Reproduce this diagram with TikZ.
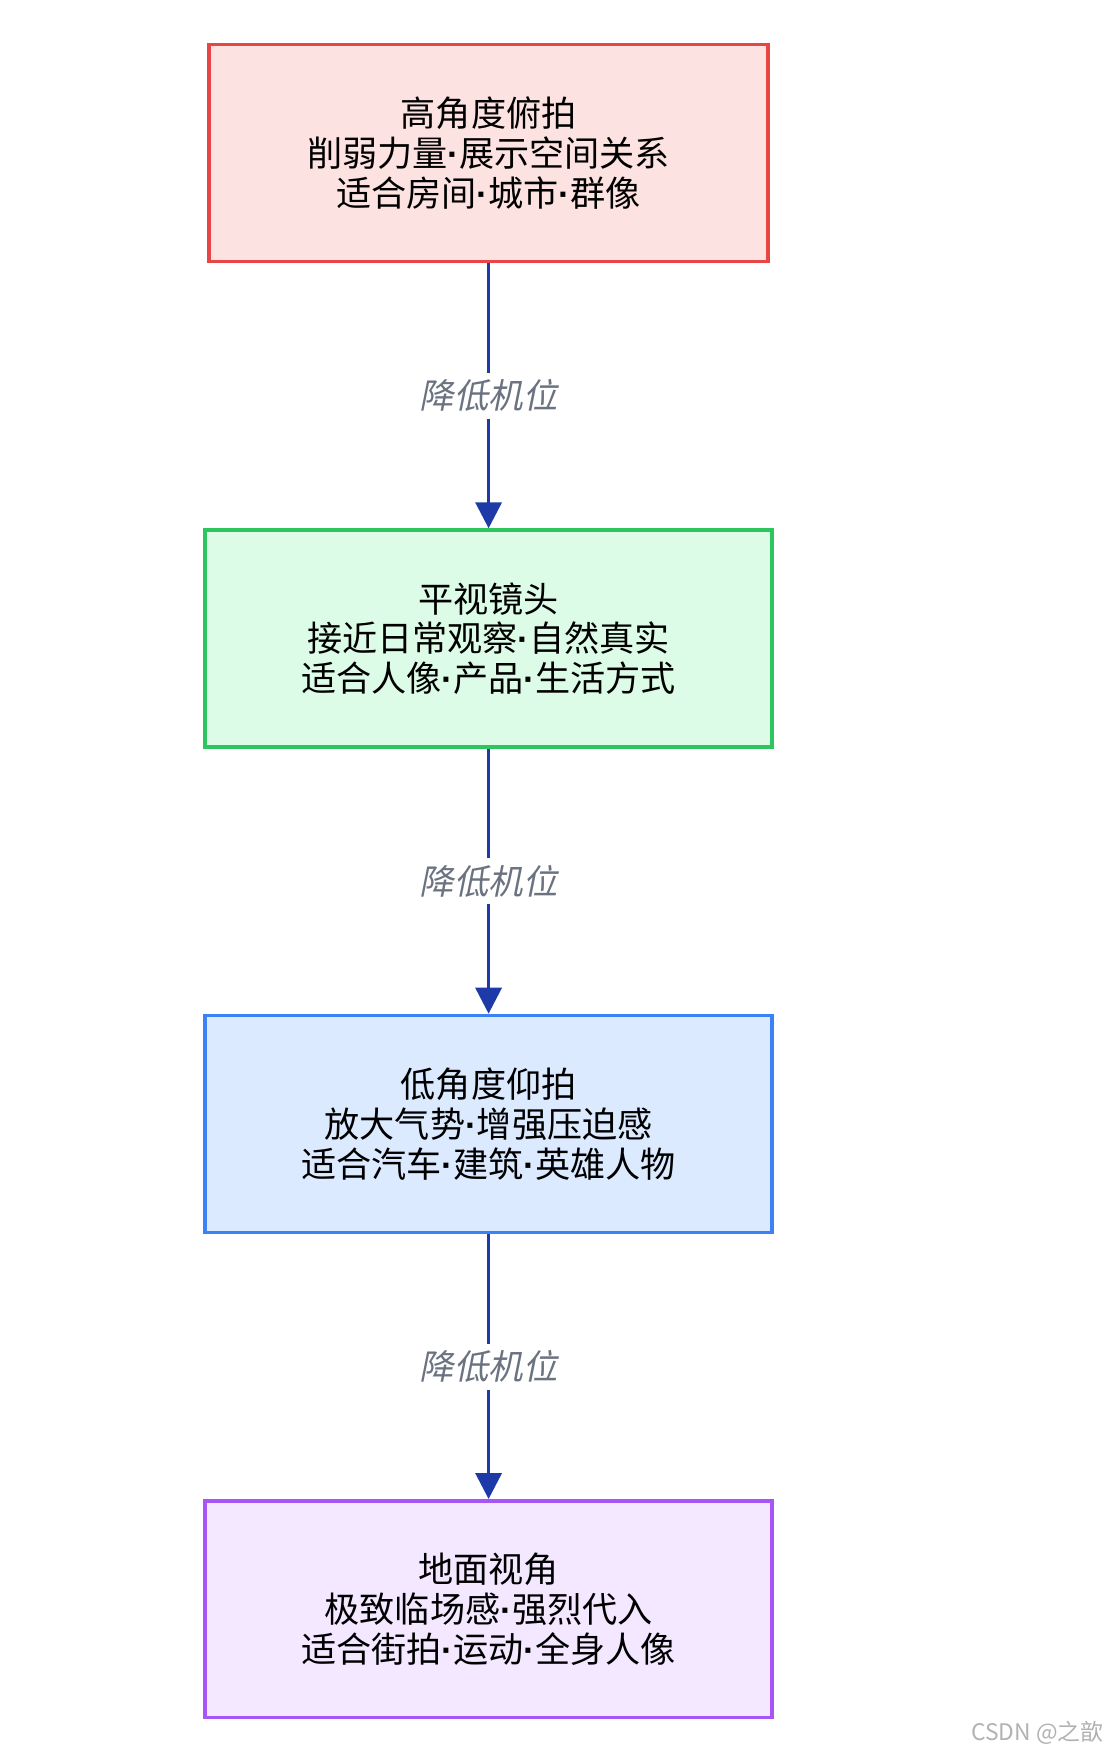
\documentclass[tikz,border=0pt]{standalone}
\usepackage{fontspec}
\usetikzlibrary{arrows.meta, positioning}
\newfontfamily\cjk{Noto Sans CJK SC}
\newfontfamily\cjkit[FakeSlant=0.2]{Noto Sans CJK SC}
\newfontfamily\dotfont{Liberation Sans}
\newcommand{\md}{{\dotfont\textbf{·}}}
\definecolor{redline}{HTML}{E84545}
\definecolor{redfill}{HTML}{FDE2E2}
\definecolor{greenline}{HTML}{2DC55E}
\definecolor{greenfill}{HTML}{DCFCE7}
\definecolor{blueline}{HTML}{3B82F6}
\definecolor{bluefill}{HTML}{DBEAFE}
\definecolor{purpleline}{HTML}{A855F7}
\definecolor{purplefill}{HTML}{F3E8FF}
\definecolor{arrowblue}{HTML}{1E3AA8}
\definecolor{labelgray}{HTML}{6B7280}
\tikzset{
    stepbox/.style={rectangle, minimum width=5.67cm, minimum height=2.17cm, line width=1pt, align=center, font=\cjk\fontsize{10}{11.3}\selectfont, text=black},
    arr/.style={arrowblue, line width=1pt, -{Triangle[length=2.6mm, width=2.6mm]}},
    steplabel/.style={fill=white, font=\cjkit\fontsize{9.8}{11}\selectfont, text=labelgray, inner sep=2pt},
}
\begin{document}
\begin{tikzpicture}[x=0.01118cm, y=-0.01118cm]
\useasboundingbox (0,0) rectangle (1000,1567);
% Camera angle boxes, top to bottom
\node[stepbox, draw=redline, fill=redfill, minimum width=5.59cm] (high) at (437,137) {高角度俯拍\\削弱力量\md 展示空间关系\\适合房间\md 城市\md 群像};
\node[stepbox, draw=greenline, fill=greenfill, below=2.65cm of high] (eye) {平视镜头\\接近日常观察\md 自然真实\\适合人像\md 产品\md 生活方式};
\node[stepbox, draw=blueline, fill=bluefill, below=2.65cm of eye] (low) {低角度仰拍\\放大气势\md 增强压迫感\\适合汽车\md 建筑\md 英雄人物};
\node[stepbox, draw=purpleline, fill=purplefill, below=2.65cm of low] (ground) {地面视角\\极致临场感\md 强烈代入\\适合街拍\md 运动\md 全身人像};

% Arrows
\draw[arr] (high.south) -- node[steplabel]{降低机位} (eye.north);
\draw[arr] (eye.south) -- node[steplabel]{降低机位} (low.north);
\draw[arr] (low.south) -- node[steplabel]{降低机位} (ground.north);

% Watermark
\node[font=\cjk\fontsize{6.5}{8}\selectfont, text=black!30, anchor=east] (mark) at (998,1550) {CSDN @之歆};
\end{tikzpicture}
\end{document}
